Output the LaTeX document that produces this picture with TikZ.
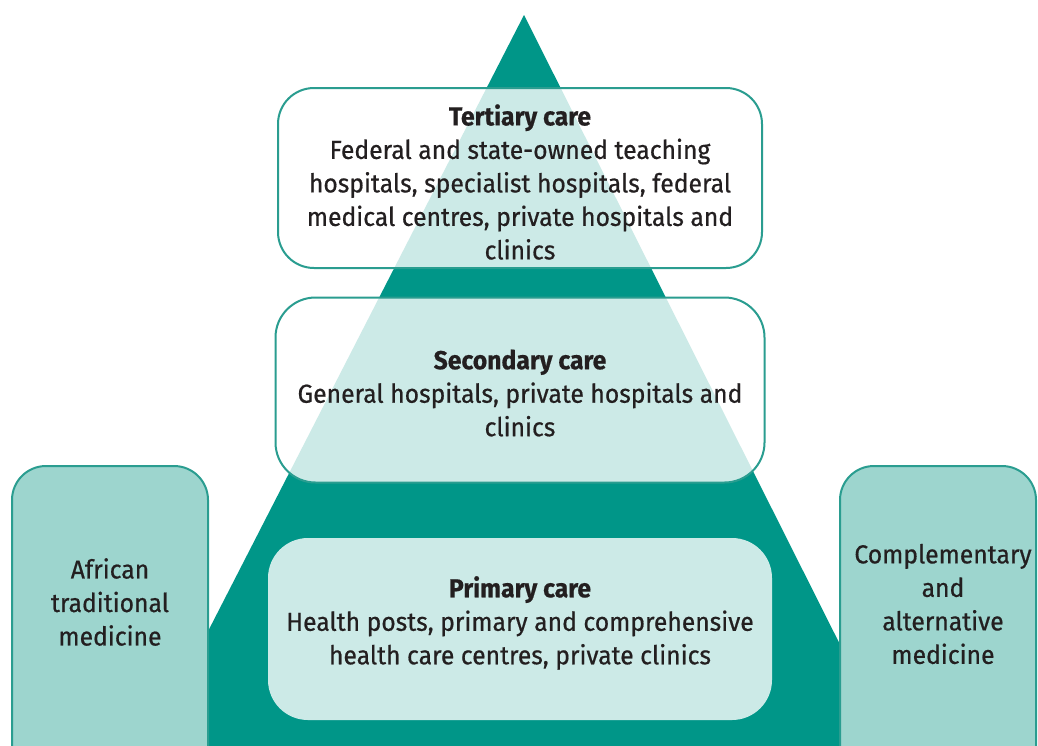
\documentclass[tikz,border=0pt]{standalone}
\usepackage{fontspec}
\setmainfont[FakeStretch=0.95,FakeBold=0.6]{Fira Sans}
\definecolor{pyr}{HTML}{009688}
\definecolor{edge}{HTML}{2A9D90}
\definecolor{side}{HTML}{9DD5CE}
\definecolor{ink}{HTML}{231F20}
\begin{document}
\begin{tikzpicture}[x=1pt,y=-1pt,
  txt/.style={align=center,text=ink,font=\fontsize{26}{33.5}\selectfont},
  tier/.style={draw=edge,line width=2pt,fill=white,fill opacity=0.8,inner sep=0pt},
  sidebox/.style={draw=edge,line width=2pt,fill=side,rounded corners=34pt,inner sep=0pt,minimum width=196pt,minimum height=330pt}]
\useasboundingbox (0,0) rectangle (1038,745);
\clip (0,0) rectangle (1038,745);
\fill[white] (0,0) rectangle (1038,745);
\fill[pyr] (524,15) -- (898,760) -- (142,760) -- cycle;
\node[tier,rounded corners=36pt,minimum width=484pt,minimum height=180pt,
  label={[txt,yshift=-4pt]center:\textbf{Tertiary care}\\Federal and state-owned teaching\\hospitals, specialist hospitals, federal\\medical centres, private hospitals and\\clinics}] (tert) at (520,178) {};
\node[tier,rounded corners=40pt,minimum width=489pt,minimum height=185pt,
  label={[txt,yshift=-3pt]center:\textbf{Secondary care}\\General hospitals, private hospitals and\\clinics}] (sec) at (520,390) {};
\node[tier,draw=none,rounded corners=40pt,minimum width=504pt,minimum height=182pt,
  label={[txt,yshift=6pt]center:\textbf{Primary care}\\Health posts, primary and comprehensive\\health care centres, private clinics}] (prim) at (520,629) {};
\node[sidebox,label={[txt,yshift=29pt]center:African\\traditional\\medicine}] (atm) at (110,631) {};
\node[sidebox,label={[txt,yshift=27pt,xshift=5pt]center:Complementary\\and\\alternative\\medicine}] (cam) at (938,631) {};
\end{tikzpicture}
\end{document}
